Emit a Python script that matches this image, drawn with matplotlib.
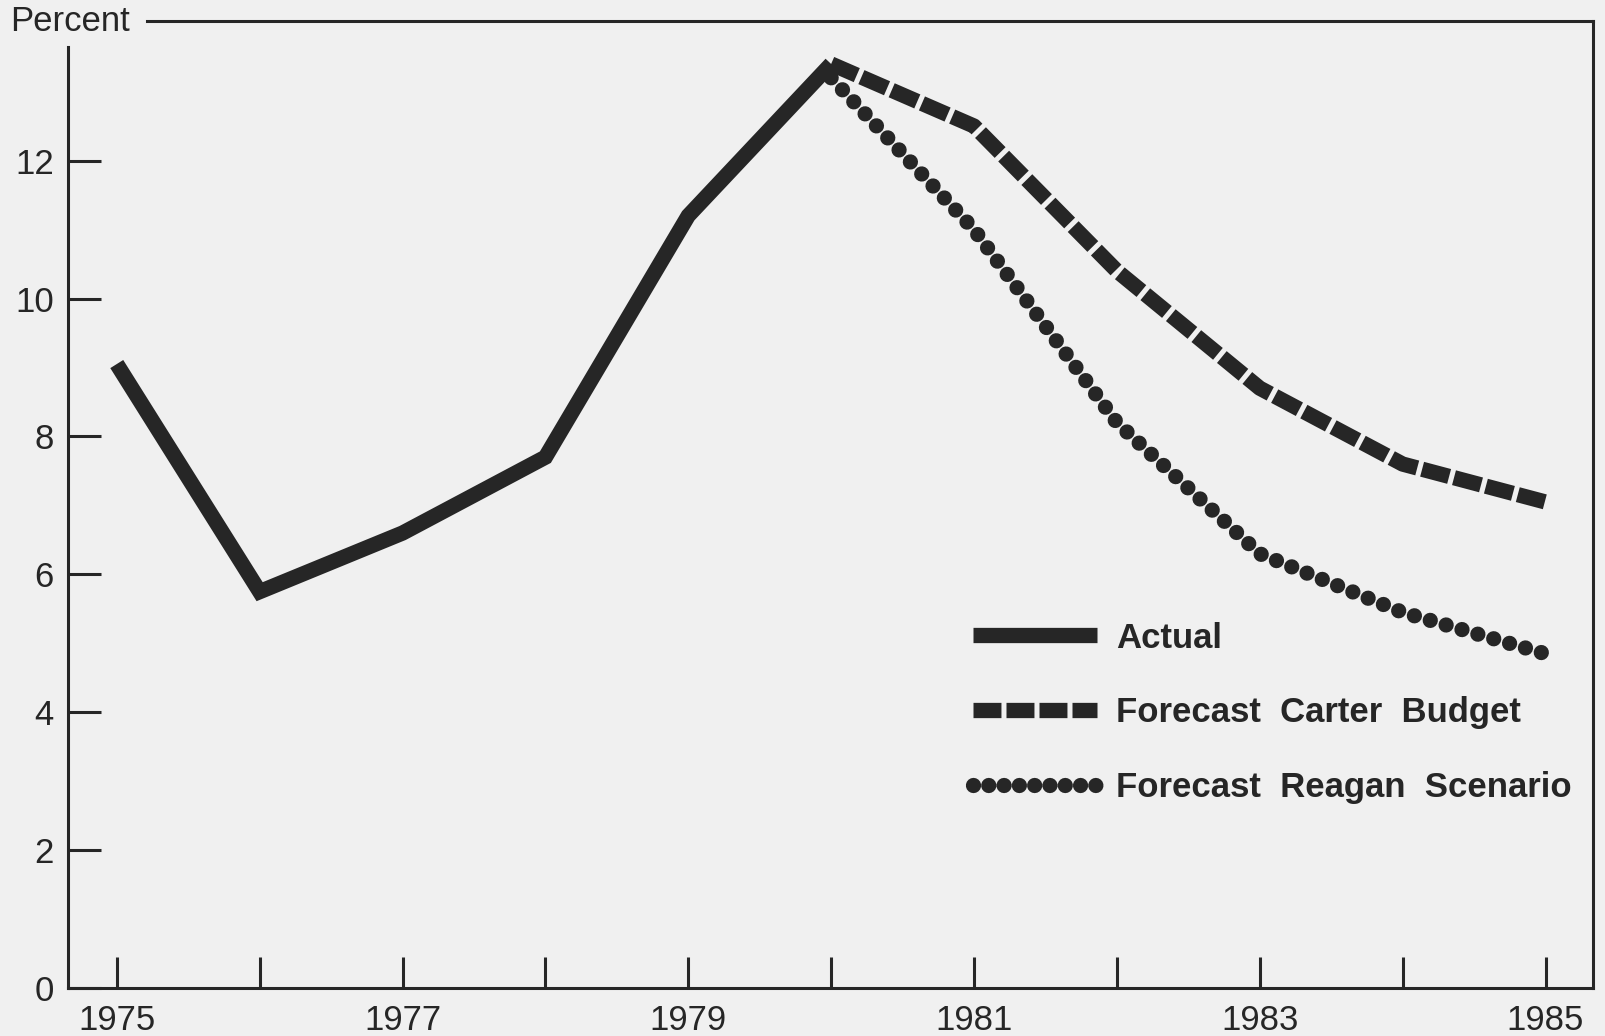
import matplotlib.pyplot as plt
from matplotlib.lines import Line2D

# dane (procent)
years_actual = [1975, 1976, 1977, 1978, 1979, 1980]
actual = [9.05, 5.75, 6.6, 7.7, 11.2, 13.4]
years_forecast = [1980, 1981, 1982, 1983, 1984, 1985]
carter = [13.4, 12.5, 10.4, 8.7, 7.6, 7.05]
reagan = [13.2, 11.0, 8.2, 6.3, 5.45, 4.85]

x_ticks = list(range(1975, 1986))
x_labels = [str(y) if y % 2 == 1 else '' for y in x_ticks]
y_ticks = [0, 2, 4, 6, 8, 10, 12]
labels = ['Actual', 'Forecast  Carter  Budget', 'Forecast  Reagan  Scenario']

bg = '#f0f0f0'
ink = '#262626'
lw = 11

plt.rcParams['font.family'] = ['Liberation Sans', 'DejaVu Sans']

fig = plt.figure(figsize=(16.06, 10.36), dpi=100, facecolor=bg)
ax = fig.add_axes([0.0421, 0.046, 0.9496, 0.9342], facecolor=bg)

ax.plot(years_actual, actual, color=ink, lw=lw, solid_capstyle='butt', solid_joinstyle='miter')
ax.plot(years_forecast, carter, color=ink, lw=lw, linestyle=(0, (1.83, 0.33)), dash_capstyle='butt')
ax.plot(years_forecast, reagan, color=ink, lw=lw, linestyle=(0, (0.001, 1.08)), dash_capstyle='round')

ax.set_xlim(1974.656, 1985.33)
ax.set_ylim(0, 14.03)

# osie jak w oryginale
for s in ax.spines.values():
    s.set_linewidth(2.2)
    s.set_color(ink)
ax.spines['left'].set_bounds(0, 13.65)
ax.spines['top'].set_bounds(1975.21, 1985.33)

ax.set_xticks(x_ticks)
ax.set_xticklabels(x_labels)
ax.set_yticks(y_ticks)
ax.tick_params(axis='x', direction='in', length=22, width=2.2, color=ink, labelsize=25, pad=11, labelcolor=ink)
ax.tick_params(axis='y', direction='in', length=24, width=2.2, color=ink, labelsize=25, pad=10, labelcolor=ink)

ax.text(-0.0376, 0.999, 'Percent', transform=ax.transAxes, fontsize=25, color=ink, ha='left', va='center')

handles = [
    Line2D([], [], color=ink, lw=lw, solid_capstyle='butt'),
    Line2D([], [], color=ink, lw=lw, linestyle=(0, (1.83, 0.33)), dash_capstyle='butt'),
    Line2D([], [], color=ink, lw=lw, linestyle=(0, (0.001, 1.0)), dash_capstyle='round'),
]
leg = ax.legend(handles, labels, loc='upper left', bbox_to_anchor=(0.594, 0.379), frameon=False,
                borderpad=0, borderaxespad=0, handlelength=3.55, handletextpad=0.55, labelspacing=1.2,
                prop={'size': 25, 'weight': 'bold'})
for t in leg.get_texts():
    t.set_color(ink)

plt.savefig('out.png', dpi=100, facecolor=bg)
